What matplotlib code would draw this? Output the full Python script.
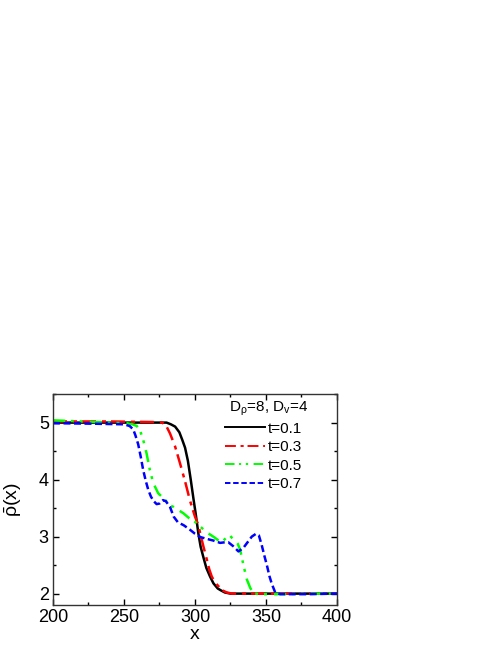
import numpy as np
import matplotlib
matplotlib.use("Agg")
import matplotlib.pyplot as plt
from matplotlib.ticker import MultipleLocator

plt.rcParams['font.family'] = ['Liberation Sans', 'DejaVu Sans']
plt.rcParams['mathtext.fontset'] = 'custom'
plt.rcParams['mathtext.rm'] = 'Liberation Sans'
plt.rcParams['mathtext.it'] = 'Liberation Sans'

# t = 0.1 (black solid)
x1 = [200, 260, 280, 283, 286, 289, 291, 293, 295, 297, 299, 300.5, 302.4, 304,
      306, 308, 310.6, 313, 316, 318, 321, 325, 360, 400]
y1 = [5.0, 5.0, 5.0, 4.97, 4.93, 4.83, 4.7, 4.56, 4.33, 4.0, 3.65, 3.4, 3.05, 2.82,
      2.63, 2.45, 2.30, 2.18, 2.09, 2.06, 2.02, 2.0, 2.0, 2.0]

# t = 0.3 (red dash-dot)
x3 = [200, 240, 270, 277, 280, 282.4, 286, 289.4, 293, 296.5, 300, 302.4, 304,
      305.9, 308.3, 310, 311.8, 314, 316.5, 319, 322.4, 326, 360, 400]
y3 = [5.02, 5.02, 5.01, 5.0, 4.93, 4.81, 4.58, 4.29, 3.97, 3.63, 3.35, 3.2, 3.02,
      2.83, 2.6, 2.43, 2.3, 2.2, 2.13, 2.06, 2.02, 2.0, 2.0, 2.0]

# t = 0.5 (green dash-dot-dot)
x5 = [200, 220, 240, 252, 256, 259, 261.2, 263.5, 265.9, 268.2, 270.6, 274.1, 278.8,
      282, 285, 288, 291.8, 296, 300, 304, 308, 311, 314, 317.7, 320, 322, 324.5,
      326, 328, 330, 331.8, 334.3, 336.5, 338.9, 341, 345, 360, 380, 400]
y5 = [5.04, 5.02, 5.0, 4.99, 4.97, 4.94, 4.87, 4.7, 4.46, 4.17, 3.94, 3.76, 3.65,
      3.55, 3.52, 3.47, 3.41, 3.32, 3.26, 3.17, 3.08, 3.03, 2.98, 2.91, 2.93, 2.98, 3.02,
      2.98, 2.94, 2.88, 2.77, 2.48, 2.25, 2.1, 2.01, 1.99, 1.99, 2.0, 2.0]

# t = 0.7 (blue dashed)
x7 = [200, 230, 250, 254, 256.5, 258, 260, 261.8, 263.5, 265.3, 267.1, 269, 271, 273,
      275, 277.5, 279.5, 282.4, 285, 288, 292, 296, 300, 304, 308.3, 313, 317.7, 321,
      323.5, 327, 330.6, 334, 337, 340, 343, 345, 347, 349, 350.6, 352.5, 354.1, 356.5,
      360, 380, 400]
y7 = [4.99, 4.98, 4.97, 4.94, 4.88, 4.78, 4.62, 4.4, 4.17, 3.98, 3.82, 3.7, 3.62, 3.57,
      3.58, 3.64, 3.62, 3.52, 3.35, 3.25, 3.2, 3.13, 3.05, 2.99, 2.96, 2.93, 2.89, 2.9,
      2.9, 2.83, 2.74, 2.8, 2.9, 3.0, 3.05, 3.02, 2.85, 2.65, 2.5, 2.3, 2.17, 2.02,
      1.99, 1.99, 2.0]

labels = ['t=0.1', 't=0.3', 't=0.5', 't=0.7']

fig = plt.figure(figsize=(4.98, 6.45), dpi=100)
ax = fig.add_axes([0.1064, 0.062, 0.5703, 0.327])

lw = 1.8
ax.plot(x1, y1, color='black', lw=lw, ls='-', label=labels[0])
ax.plot(x3, y3, color='#ff0000', lw=lw, dashes=(5.6, 2.4, 1.6, 2.0), label=labels[1])
ax.plot(x5, y5, color='#00ff00', lw=lw, dashes=(4.9, 2.3, 1.1, 2.4, 1.2, 2.8), label=labels[2])
ax.plot(x7, y7, color='#0000ff', lw=lw, dashes=(2.8, 1.4), label=labels[3])

ax.set_xlim(200, 400)
ax.set_ylim(1.8, 5.5)
ax.set_xticks([200, 250, 300, 350, 400])
ax.set_yticks([2, 3, 4, 5])
ax.xaxis.set_minor_locator(MultipleLocator(25))
ax.yaxis.set_minor_locator(MultipleLocator(0.5))
ax.tick_params(which='both', direction='in', top=True, right=True, labelsize=13, pad=3)
ax.tick_params(which='major', length=4, width=1)
ax.tick_params(which='minor', length=2.5, width=1)
for s in ax.spines.values():
    s.set_linewidth(1)
    s.set_color('#333333')

ax.set_xlabel('x', fontsize=14, labelpad=0)
ax.set_ylabel(r'$\bar{\rho}$(x)', fontsize=14, labelpad=11)

ax.text(0.62, 0.929, r'D$_\rho$=8, D$_v$=4', transform=ax.transAxes,
        fontsize=11, va='center', ha='left')
leg = ax.legend(loc='upper left', bbox_to_anchor=(0.605, 0.87), frameon=False,
                fontsize=11, handlelength=2.6, handletextpad=0.2, labelspacing=0.3,
                borderpad=0, borderaxespad=0)
for ln in leg.get_lines():
    ln.set_linewidth(1.4)

fig.savefig('out.png', dpi=100)
